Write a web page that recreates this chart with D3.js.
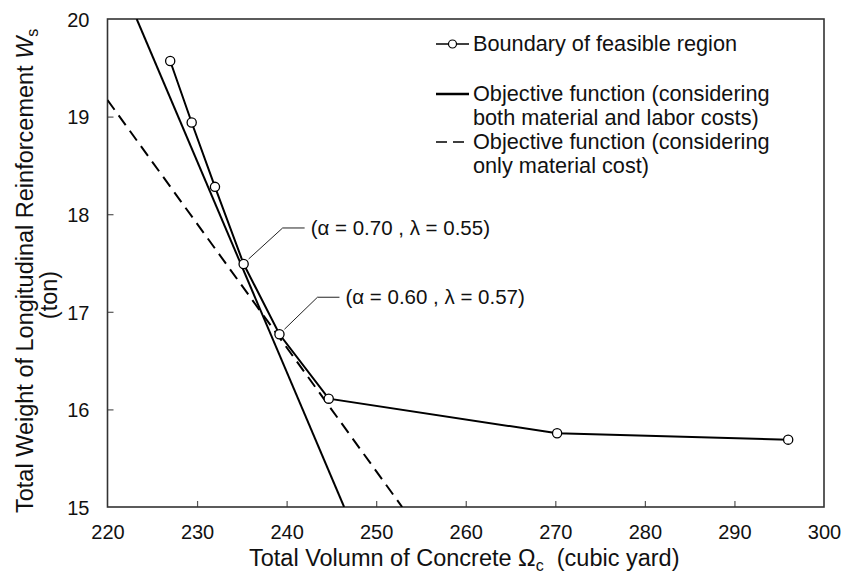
<!DOCTYPE html>
<html>
<head>
<meta charset="utf-8">
<script src="https://cdn.jsdelivr.net/npm/d3@7"></script>
<style>
  html, body { margin: 0; padding: 0; background: #fff; }
  svg { display: block; font-family: "Liberation Sans", Arial, sans-serif; }
</style>
</head>
<body>
<svg id="chart" width="845" height="574"></svg>
<script>
// ---- data ----
const boundaryX = [227.0, 229.4, 232.0, 235.2, 239.2, 244.7, 270.2, 296.0];
const boundaryY = [19.57, 18.94, 18.28, 17.49, 16.77, 16.11, 15.755, 15.69];
const objBothX = [223.26, 246.42];
const objBothY = [20, 15];
const objMatX = [220, 252.9];
const objMatY = [19.17, 15];
const xTicks = [220, 230, 240, 250, 260, 270, 280, 290, 300];
const yTicks = [15, 16, 17, 18, 19, 20];
const annotations = [
  { label: "(α = 0.70 , λ = 0.55)", px: 235.2, py: 17.49 },
  { label: "(α = 0.60 , λ = 0.57)", px: 239.2, py: 16.77 }
];
const legendLabels = [
  ["Boundary of feasible region"],
  ["Objective function (considering", "both material and labor costs)"],
  ["Objective function (considering", "only material cost)"]
];

// ---- layout ----
const svg = d3.select("#chart");
const L = 107.5, R = 824, T = 19, B = 507;
const x = d3.scaleLinear().domain([220, 300]).range([L, R]);
const y = d3.scaleLinear().domain([15, 20]).range([B, T]);

svg.append("defs").append("clipPath").attr("id", "clip")
  .append("rect").attr("x", L).attr("y", T).attr("width", R - L).attr("height", B - T);

// axes
const xAxis = svg.append("g").attr("transform", `translate(0,${B})`)
  .call(d3.axisBottom(x).tickValues(xTicks).tickFormat(d3.format("d"))
    .tickSizeInner(-6).tickSizeOuter(0).tickPadding(18));
const yAxis = svg.append("g").attr("transform", `translate(${L},0)`)
  .call(d3.axisLeft(y).tickValues(yTicks).tickFormat(d3.format("d"))
    .tickSizeInner(-6).tickSizeOuter(0).tickPadding(18));
[xAxis, yAxis].forEach(g => {
  g.select(".domain").remove();
  g.selectAll(".tick line").attr("stroke", "#555").attr("stroke-width", 1.2);
  g.selectAll(".tick text").attr("font-size", 20).attr("fill", "#111")
    .attr("font-family", "Liberation Sans, Arial, sans-serif");
});
xAxis.selectAll(".tick").filter(d => d === 220 || d === 300).select("line").remove();
yAxis.selectAll(".tick").filter(d => d === 15 || d === 20).select("line").remove();
yAxis.selectAll(".tick text").attr("dy", "0.36em");
xAxis.selectAll(".tick text").attr("dy", "0.71em");

// frame
svg.append("rect").attr("x", L).attr("y", T).attr("width", R - L).attr("height", B - T)
  .attr("fill", "none").attr("stroke", "#333").attr("stroke-width", 1.6);

const plot = svg.append("g").attr("clip-path", "url(#clip)");
const line = d3.line().x(d => x(d[0])).y(d => y(d[1]));

// objective functions
plot.append("path").datum(d3.zip(objBothX, objBothY)).attr("d", line)
  .attr("fill", "none").attr("stroke", "#000").attr("stroke-width", 2);
plot.append("path").datum(d3.zip(objMatX, objMatY)).attr("d", line)
  .attr("fill", "none").attr("stroke", "#000").attr("stroke-width", 2)
  .attr("stroke-dasharray", "12,7");

// boundary
const bpts = d3.zip(boundaryX, boundaryY);
plot.append("path").datum(bpts).attr("d", line)
  .attr("fill", "none").attr("stroke", "#000").attr("stroke-width", 2);
plot.selectAll("circle.b").data(bpts).join("circle").attr("class", "b")
  .attr("cx", d => x(d[0])).attr("cy", d => y(d[1])).attr("r", 4.6)
  .attr("fill", "#fff").attr("stroke", "#000").attr("stroke-width", 1.3);

// annotations
const annOff = [{ dx: 39, dy: -36, hx: 22 }, { dx: 38, dy: -37, hx: 22 }];
annotations.forEach((a, i) => {
  const px = x(a.px), py = y(a.py);
  const o = annOff[i];
  const sx = px + 5, sy = py - 5;
  const ex = px + o.dx, ey = py + o.dy;
  svg.append("path").attr("d", `M${sx},${sy}L${ex},${ey}L${ex + o.hx},${ey}`)
    .attr("fill", "none").attr("stroke", "#222").attr("stroke-width", 1);
  svg.append("text").attr("x", ex + o.hx + 6).attr("y", ey + 7)
    .attr("font-size", 20.5).attr("fill", "#111").text(a.label);
});

// legend
const lg = svg.append("g");
const lx0 = 436, lx1 = 469, tx = 473;
const legendY = [44, 94, 142];
lg.append("line").attr("x1", lx0).attr("x2", lx1).attr("y1", legendY[0]).attr("y2", legendY[0])
  .attr("stroke", "#000").attr("stroke-width", 1.6);
lg.append("circle").attr("cx", (lx0 + lx1) / 2).attr("cy", legendY[0]).attr("r", 4)
  .attr("fill", "#fff").attr("stroke", "#000").attr("stroke-width", 1.2);
lg.append("line").attr("x1", lx0).attr("x2", lx1).attr("y1", legendY[1]).attr("y2", legendY[1])
  .attr("stroke", "#000").attr("stroke-width", 2.4);
lg.append("line").attr("x1", lx0).attr("x2", lx1).attr("y1", legendY[2]).attr("y2", legendY[2])
  .attr("stroke", "#000").attr("stroke-width", 1.6).attr("stroke-dasharray", "11,6");
const baseY = [51, 101, 149];
legendLabels.forEach((lines, i) => {
  lines.forEach((s, j) => {
    lg.append("text").attr("x", tx).attr("y", baseY[i] + j * 24)
      .attr("font-size", 21.7).attr("fill", "#111").text(s);
  });
});

// axis titles
const xt = svg.append("text").attr("x", 249).attr("y", 566).attr("font-size", 23.5).attr("fill", "#111");
xt.append("tspan").text("Total Volumn of Concrete Ω");
xt.append("tspan").attr("font-size", 16).attr("dy", 5).text("c");
xt.append("tspan").attr("dy", -5).text("\u00a0\u00a0(cubic yard)");

const yt = svg.append("text").attr("transform", "translate(33,513) rotate(-90)")
  .attr("font-size", 23.5).attr("fill", "#111");
yt.append("tspan").text("Total Weight of Longitudinal Reinforcement\u00a0");
yt.append("tspan").attr("font-style", "italic").text("W");
yt.append("tspan").attr("font-size", 16).attr("dy", 5).text("s");
svg.append("text").attr("transform", "translate(57,295) rotate(-90)")
  .attr("text-anchor", "middle").attr("font-size", 23.5).attr("fill", "#111").text("(ton)");
</script>
</body>
</html>
